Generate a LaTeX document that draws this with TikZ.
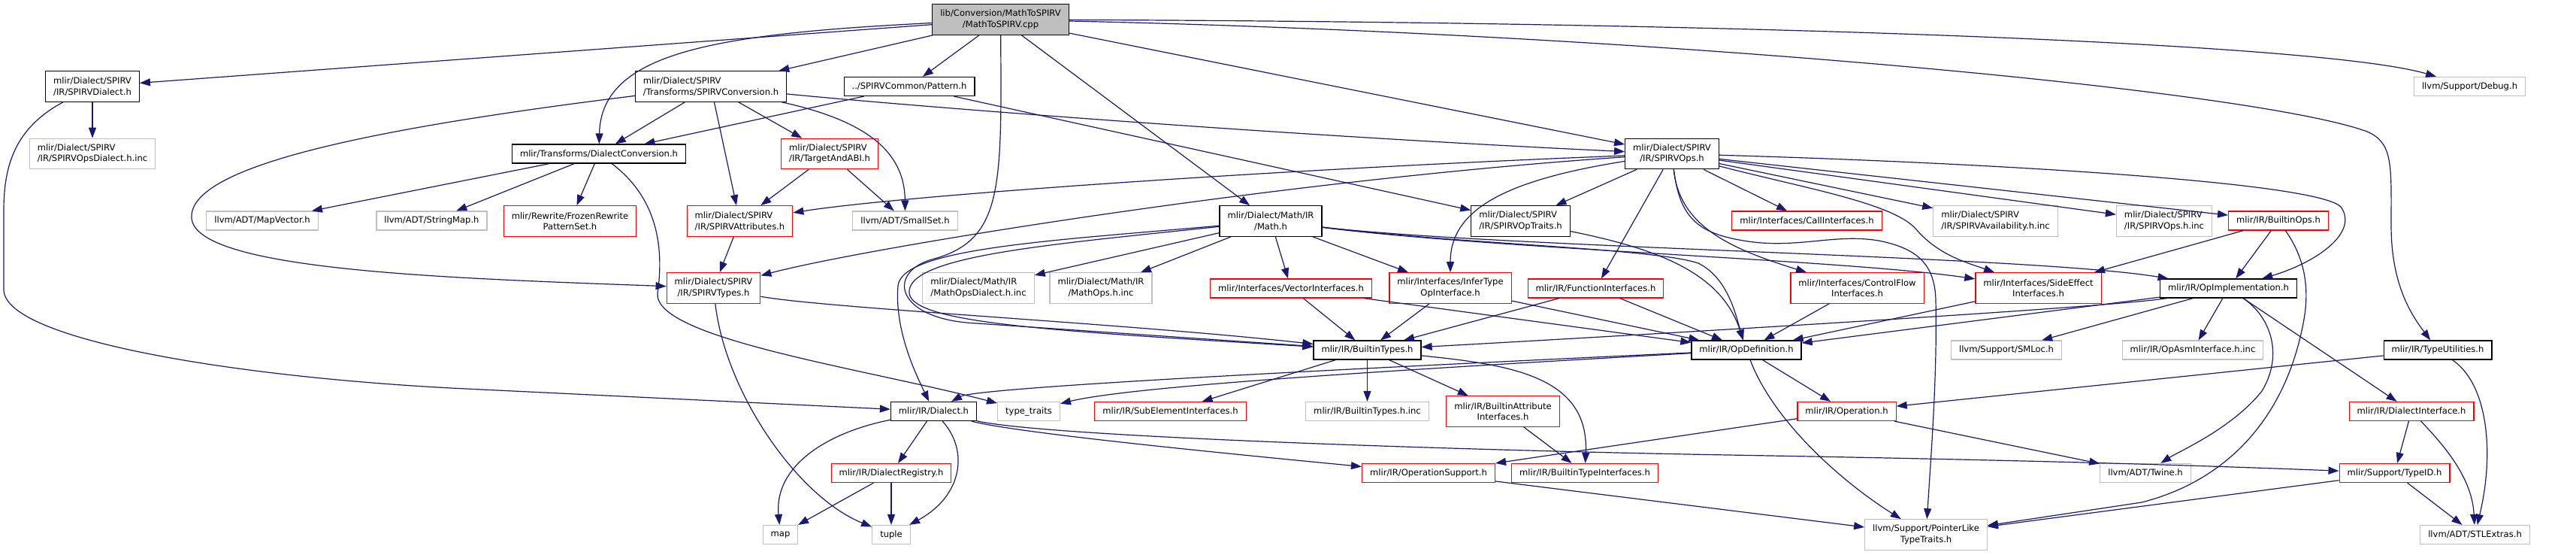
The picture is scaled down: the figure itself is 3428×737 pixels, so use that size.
\documentclass[tikz,border=0pt]{standalone}
\usepackage{fontspec}
\setmainfont{DejaVu Sans}
\usetikzlibrary{arrows.meta}
\definecolor{edgec}{HTML}{191970}
\definecolor{grayb}{HTML}{BFBFBF}
\definecolor{redb}{HTML}{FF0000}
\newcommand\nfont{\fontsize{11.56pt}{14.6pt}\selectfont}
\begin{document}
\begin{tikzpicture}[x=1pt,y=-1pt,
 box/.style={draw, rectangle, inner xsep=10.5pt, inner ysep=0pt, minimum height=25pt, font=\nfont, line width=1.2pt, fill=white, text=black},
 kbox/.style={box, draw=black},
 rbox/.style={box, draw=redb},
 gbox/.style={box, draw=grayb},
 two/.style={minimum height=40.5pt},
 e/.style={draw=edgec, line width=1.2pt, -{Triangle[length=14pt,width=10pt]}}]
\useasboundingbox (0,0) rectangle (3428,737);
\fill[white] (0,0) rectangle (3428,737);
% nodes
\node[kbox, two, fill=grayb, align=center] (R) at (1331.5,26) {lib/Conversion/MathToSPIRV\\/MathToSPIRV.cpp};
\node[kbox, two, align=left] (SD) at (123,115) {mlir/Dialect/SPIRV\\/IR/SPIRVDialect.h};
\node[kbox, two, align=left] (SC) at (946,115) {mlir/Dialect/SPIRV\\/Transforms/SPIRVConversion.h};
\node[kbox] (P) at (1210,115) {../SPIRVCommon/Pattern.h};
\node[gbox] (DB) at (3286.5,115) {llvm/Support/Debug.h};
\node[gbox, two, align=left] (SDI) at (123,204.5) {mlir/Dialect/SPIRV\\/IR/SPIRVOpsDialect.h.inc};
\node[kbox] (DC) at (797,204.5) {mlir/Transforms/DialectConversion.h};
\node[rbox, two, align=left] (TA) at (1104,204.5) {mlir/Dialect/SPIRV\\/IR/TargetAndABI.h};
\node[kbox, two, align=center] (SO) at (2225,204.5) {mlir/Dialect/SPIRV\\/IR/SPIRVOps.h};
\node[gbox] (MV) at (349,293.5) {llvm/ADT/MapVector.h};
\node[gbox] (SM) at (574.5,293.5) {llvm/ADT/StringMap.h};
\node[rbox, two, align=center] (FR) at (758.5,294) {mlir/Rewrite/FrozenRewrite\\PatternSet.h};
\node[rbox, two, align=left] (SA) at (984.5,294) {mlir/Dialect/SPIRV\\/IR/SPIRVAttributes.h};
\node[gbox] (SS) at (1204.5,293.5) {llvm/ADT/SmallSet.h};
\node[kbox, two, align=center] (M) at (1691,294) {mlir/Dialect/Math/IR\\/Math.h};
\node[kbox, two, align=left] (OT) at (2023.5,294) {mlir/Dialect/SPIRV\\/IR/SPIRVOpTraits.h};
\node[rbox] (CI) at (2404.5,293.5) {mlir/Interfaces/CallInterfaces.h};
\node[gbox, two, align=left] (AV) at (2655.5,294) {mlir/Dialect/SPIRV\\/IR/SPIRVAvailability.h.inc};
\node[gbox, two, align=left] (SOI) at (2880,294) {mlir/Dialect/SPIRV\\/IR/SPIRVOps.h.inc};
\node[rbox] (BO) at (3032,293.5) {mlir/IR/BuiltinOps.h};
\node[rbox, two, align=center] (ST) at (949.5,383) {mlir/Dialect/SPIRV\\/IR/SPIRVTypes.h};
\node[gbox, two, align=left] (MDI) at (1302,383) {mlir/Dialect/Math/IR\\/MathOpsDialect.h.inc};
\node[gbox, two, align=center] (MOI) at (1465,383) {mlir/Dialect/Math/IR\\/MathOps.h.inc};
\node[rbox] (VI) at (1718,383.5) {mlir/Interfaces/VectorInterfaces.h};
\node[rbox, two, align=center] (IT) at (1930,383) {mlir/Interfaces/InferType\\OpInterface.h};
\node[rbox] (FI) at (2123.5,383.5) {mlir/IR/FunctionInterfaces.h};
\node[rbox, two, align=center] (CF) at (2471.5,383) {mlir/Interfaces/ControlFlow\\Interfaces.h};
\node[rbox, two, align=center] (SE) at (2712.5,383) {mlir/Interfaces/SideEffect\\Interfaces.h};
\node[kbox] (OI) at (2965.5,383.5) {mlir/IR/OpImplementation.h};
\node[kbox] (BT) at (1819.5,465.5) {mlir/IR/BuiltinTypes.h};
\node[kbox] (OD) at (2324,465.5) {mlir/IR/OpDefinition.h};
\node[gbox] (SML) at (2670,465.5) {llvm/Support/SMLoc.h};
\node[gbox] (OA) at (2918,465.5) {mlir/IR/OpAsmInterface.h.inc};
\node[kbox] (TU) at (3244,465.5) {mlir/IR/TypeUtilities.h};
\node[kbox] (D) at (1242.5,547) {mlir/IR/Dialect.h};
\node[gbox] (TT) at (1369,547) {type\_traits};
\node[rbox] (SUB) at (1557.5,547) {mlir/IR/SubElementInterfaces.h};
\node[gbox] (BTinc) at (1819.5,547) {mlir/IR/BuiltinTypes.h.inc};
\node[rbox, two, align=center] (BAI) at (2000,547) {mlir/IR/BuiltinAttribute\\Interfaces.h};
\node[rbox] (OP) at (2457.5,547) {mlir/IR/Operation.h};
\node[rbox] (DI) at (3209,547) {mlir/IR/DialectInterface.h};
\node[rbox] (DR) at (1186,629) {mlir/IR/DialectRegistry.h};
\node[rbox] (OS) at (1901,629) {mlir/IR/OperationSupport.h};
\node[rbox] (BTI) at (2109,629) {mlir/IR/BuiltinTypeInterfaces.h};
\node[gbox] (TW) at (2855,629) {llvm/ADT/Twine.h};
\node[rbox] (TI) at (3186.5,629) {mlir/Support/TypeID.h};
\node[gbox] (MAP) at (1038.5,711) {map};
\node[gbox] (TUP) at (1186,711) {tuple};
\node[gbox, two, align=center] (PL) at (2563,711) {llvm/Support/PointerLike\\TypeTraits.h};
\node[gbox] (STL) at (3293.5,711) {llvm/ADT/STLExtras.h};
% edges from root
\draw[e] (R) -- (SD);
\draw[e] (R) .. controls (950,45) and (800,70) .. (DC);
\draw[e] (R) -- (SC);
\draw[e] (R) -- (P);
\draw[e] (R) .. controls (1333,250) and (1335,320) .. (1240,345) .. controls (1180,362) and (1190,425) .. (1300,430) -- (BT);
\draw[e] (R) -- (M);
\draw[e] (R) -- (SO);
\draw[e] (R) .. controls (2400,30) and (3100,60) .. (DB);
\draw[e] (R) .. controls (2200,45) and (3000,120) .. (3150,175) .. controls (3185,190) and (3182,220) .. (3182,300) .. controls (3182,380) and (3210,420) .. (TU);
% SPIRVDialect
\draw[e] (SD) -- (SDI);
\draw[e] (SD) .. controls (20,170) and (5,220) .. (5,280) -- (5,385) .. controls (5,450) and (300,500) .. (600,516) -- (D);
% SPIRVConversion
\draw[e] (SC) -- (DC);
\draw[e] (SC) -- (TA);
\draw[e] (SC) -- (SA);
\draw[e] (SC) .. controls (1150,160) and (1204,200) .. (SS);
\draw[e] (SC) .. controls (1200,140) and (1700,180) .. (SO);
\draw[e] (SC) .. controls (500,170) and (250,220) .. (255,290) .. controls (260,360) and (600,370) .. (ST);
% Pattern
\draw[e] (P) -- (DC);
\draw[e] (P) -- (OT);
% DialectConversion
\draw[e] (DC) -- (MV);
\draw[e] (DC) -- (SM);
\draw[e] (DC) -- (FR);
\draw[e] (DC) .. controls (870,260) and (885,320) .. (875,390) .. controls (870,450) and (1150,490) .. (TT);
% TargetAndABI, attributes, types
\draw[e] (TA) -- (SA);
\draw[e] (TA) -- (SS);
\draw[e] (SA) -- (ST);
\draw[e] (ST) .. controls (1100,410) and (1500,430) .. (BT);
\draw[e] (ST) .. controls (965,520) and (1060,660) .. (TUP);
% Math.h
\draw[e] (M) -- (MDI);
\draw[e] (M) -- (MOI);
\draw[e] (M) -- (VI);
\draw[e] (M) -- (IT);
\draw[e] (M) .. controls (1400,320) and (1200,330) .. (1195,380) .. controls (1190,440) and (1220,500) .. (D);
\draw[e] (M) .. controls (1400,325) and (1205,340) .. (1210,390) .. controls (1215,430) and (1400,440) .. (BT);
\draw[e] (M) .. controls (1950,325) and (2200,330) .. (2260,350) .. controls (2300,370) and (2310,420) .. (OD);
\draw[e] (M) .. controls (2000,330) and (2700,340) .. (OI);
\draw[e] (M) .. controls (2000,332) and (2450,345) .. (SE);
% SPIRVOps.h
\draw[e] (SO) .. controls (1700,225) and (1200,260) .. (SA);
\draw[e] (SO) .. controls (1700,240) and (1150,330) .. (ST);
\draw[e] (SO) .. controls (2000,240) and (1930,280) .. (IT);
\draw[e] (SO) -- (OT);
\draw[e] (SO) -- (FI);
\draw[e] (SO) .. controls (2235,290) and (2260,310) .. (2320,320) .. controls (2390,332) and (2440,310) .. (2500,320) .. controls (2550,330) and (2575,350) .. (2576,400) .. controls (2578,500) and (2570,600) .. (PL);
\draw[e] (SO) .. controls (2235,300) and (2300,330) .. (CF);
\draw[e] (SO) .. controls (2400,250) and (2520,270) .. (2550,305) .. controls (2580,340) and (2620,350) .. (SE);
\draw[e] (SO) -- (CI);
\draw[e] (SO) -- (AV);
\draw[e] (SO) -- (SOI);
\draw[e] (SO) -- (BO);
\draw[e] (SO) .. controls (2600,215) and (3080,240) .. (3115,275) .. controls (3140,310) and (3080,350) .. (OI);
% interfaces to OpDefinition / BuiltinTypes
\draw[e] (OT) .. controls (2200,330) and (2290,360) .. (OD);
\draw[e] (IT) -- (BT);
\draw[e] (IT) -- (OD);
\draw[e] (VI) -- (BT);
\draw[e] (VI) -- (OD);
\draw[e] (FI) -- (BT);
\draw[e] (FI) -- (OD);
\draw[e] (CF) -- (OD);
\draw[e] (SE) -- (OD);
% BuiltinOps
\draw[e] (BO) -- (SE);
\draw[e] (BO) -- (OI);
\draw[e] (BO) .. controls (3065,340) and (3075,380) .. (3065,430) .. controls (3040,560) and (2960,640) .. (2850,668) -- (PL);
% OpImplementation
\draw[e] (OI) .. controls (2800,410) and (2100,450) .. (BT);
\draw[e] (OI) -- (OD);
\draw[e] (OI) -- (SML);
\draw[e] (OI) -- (OA);
\draw[e] (OI) .. controls (3020,420) and (3040,470) .. (3010,520) .. controls (2970,570) and (2900,600) .. (TW);
\draw[e] (OI) -- (DI);
% BuiltinTypes
\draw[e] (BT) -- (SUB);
\draw[e] (BT) -- (BTinc);
\draw[e] (BT) -- (BAI);
\draw[e] (BT) .. controls (2010,485) and (2115,500) .. (BTI);
\draw[e] (BAI) -- (BTI);
% Dialect
\draw[e] (D) -- (DR);
\draw[e] (D) .. controls (1290,600) and (1280,660) .. (TUP);
\draw[e] (D) .. controls (1100,575) and (1030,620) .. (MAP);
\draw[e] (D) .. controls (1350,575) and (1600,600) .. (OS);
\draw[e] (D) .. controls (1400,582) and (2000,600) .. (2300,605) .. controls (2700,612) and (2900,618) .. (TI);
\draw[e] (DR) -- (MAP);
\draw[e] (DR) -- (TUP);
% OpDefinition
\draw[e] (OD) .. controls (1800,490) and (1300,515) .. (D);
\draw[e] (OD) .. controls (1800,495) and (1500,515) .. (TT);
\draw[e] (OD) -- (OP);
\draw[e] (OD) .. controls (2360,560) and (2450,640) .. (PL);
% Operation and others
\draw[e] (OP) -- (OS);
\draw[e] (OP) -- (TW);
\draw[e] (OS) -- (PL);
\draw[e] (TU) -- (OP);
\draw[e] (TU) .. controls (3310,510) and (3320,600) .. (STL);
\draw[e] (DI) -- (TI);
\draw[e] (DI) .. controls (3260,600) and (3290,640) .. (STL);
\draw[e] (TI) -- (STL);
\draw[e] (TI) -- (PL);
\end{tikzpicture}
\end{document}
